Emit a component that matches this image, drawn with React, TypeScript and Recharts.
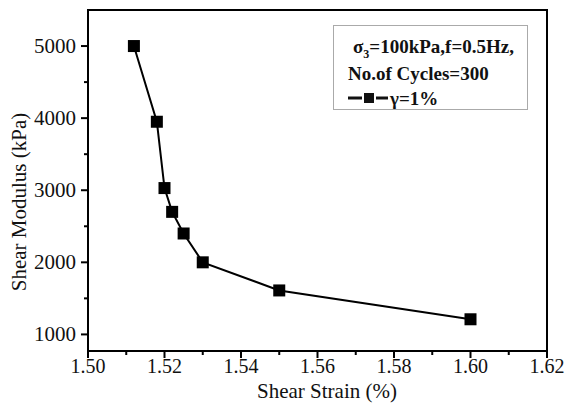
import React from 'react';
import { LineChart, Line, XAxis, YAxis, ReferenceArea, Legend } from 'recharts';

// values
const strains = [1.512, 1.518, 1.52, 1.522, 1.525, 1.53, 1.55, 1.6];
const moduli = [5000, 3950, 3030, 2700, 2400, 2000, 1610, 1210];

const xTicks = [1.5, 1.51, 1.52, 1.53, 1.54, 1.55, 1.56, 1.57, 1.58, 1.59, 1.6, 1.61, 1.62];
const yTicks = [1000, 1500, 2000, 2500, 3000, 3500, 4000, 4500, 5000];

const FONT = "'Liberation Serif', serif";
const serif = { fontFamily: FONT };

const data = strains.map((s, i) => ({ strain: s, modulus: moduli[i] }));

const XTick = ({ x, y, payload, index }: any) => {
  const major = index % 2 === 0;
  return (
    <g>
      <line x1={x} y1={y} x2={x} y2={y + (major ? 7 : 4)} stroke='#000' strokeWidth={2} />
      {major && (
        <text x={x} y={y + 22} textAnchor='middle' fontSize={20} style={serif} fill='#111'>
          {payload.value.toFixed(2)}
        </text>
      )}
    </g>
  );
};

const YTick = ({ x, y, payload, index }: any) => {
  const major = index % 2 === 0;
  return (
    <g>
      <line x1={x - (major ? 7 : 4)} y1={y} x2={x} y2={y} stroke='#000' strokeWidth={2} />
      {major && (
        <text x={x - 12} y={y + 7} textAnchor='end' fontSize={21} style={serif} fill='#111'>
          {payload.value}
        </text>
      )}
    </g>
  );
};

const SquareDot = ({ cx, cy }: any) => <rect x={cx - 6} y={cy - 6} width={12} height={12} fill='#000' />;

const LegendBox = () => (
  <div style={{ width: 195, height: 85, border: '1px solid #aaa', boxSizing: 'border-box', background: '#fff' }}>
    <svg width={193} height={83} style={{ display: 'block' }}>
      <g style={{ ...serif, fontWeight: 'bold', fontSize: 19 }} fill='#111'>
        <text x={19} y={27}>
          σ<tspan fontSize={12} dy={5}>3</tspan>
          <tspan dy={-5}>=100kPa,f=0.5Hz,</tspan>
        </text>
        <text x={14} y={54}>No.of Cycles=300</text>
        <line x1={14} y1={72} x2={28} y2={72} stroke='#111' strokeWidth={3} />
        <rect x={30} y={67} width={10} height={10} fill='#111' />
        <line x1={42} y1={72} x2={54} y2={72} stroke='#111' strokeWidth={3} />
        <text x={56} y={79}>γ=1%</text>
      </g>
    </svg>
  </div>
);

const YTitle = () => (
  <text
    x={19}
    y={202}
    transform='rotate(-90 19 202)'
    textAnchor='middle'
    dominantBaseline='central'
    fontSize={21}
    style={serif}
    fill='#111'
  >
    Shear Modulus (kPa)
  </text>
);

const XTitle = () => (
  <text x={327} y={398} textAnchor='middle' fontSize={21} style={serif} fill='#111'>
    Shear Strain (%)
  </text>
);

export default function App() {
  return (
    <div style={{ position: 'absolute', left: 0, top: 0, background: '#fff', fontFamily: FONT }}>
      <LineChart width={566} height={405} data={data} margin={{ top: 10, right: 19, bottom: 0, left: 0 }}>
        <XAxis
          type='number'
          dataKey='strain'
          domain={[1.5, 1.62]}
          ticks={xTicks}
          interval={0}
          height={54}
          tickSize={0}
          tickMargin={0}
          tickLine={false}
          axisLine={{ stroke: '#000', strokeWidth: 2 }}
          tick={(p: any) => <XTick {...p} />}
          label={<XTitle />}
        />
        <YAxis
          type='number'
          domain={[770, 5500]}
          ticks={yTicks}
          interval={0}
          width={88}
          tickSize={0}
          tickMargin={0}
          tickLine={false}
          axisLine={{ stroke: '#000', strokeWidth: 2 }}
          tick={(p: any) => <YTick {...p} />}
          label={<YTitle />}
        />
        <ReferenceArea x1={1.5} x2={1.62} y1={770} y2={5500} fill='none' stroke='#000' strokeWidth={2} />
        <Legend
          layout='vertical'
          align='center'
          verticalAlign='middle'
          content={() => <LegendBox />}
          wrapperStyle={{ position: 'absolute', left: 333, top: 25, width: 195, height: 85 }}
        />
        <Line
          type='linear'
          dataKey='modulus'
          stroke='#000'
          strokeWidth={2}
          dot={<SquareDot />}
          activeDot={false}
          isAnimationActive={false}
        />
      </LineChart>
    </div>
  );
}
